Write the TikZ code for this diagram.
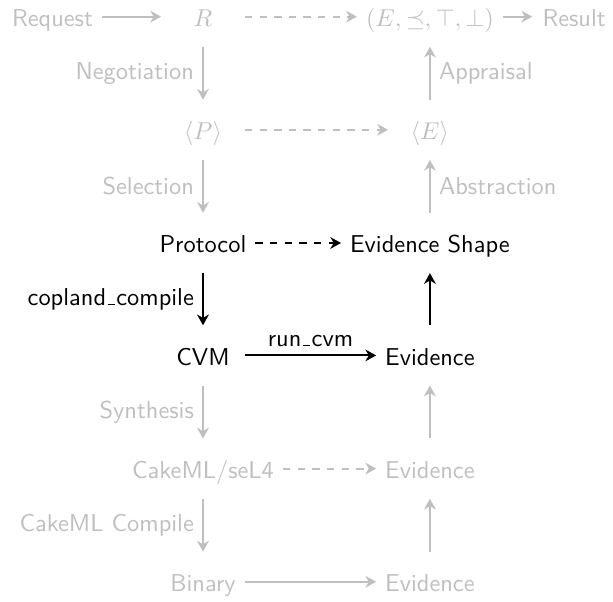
\documentclass[tikz,border=0pt]{standalone}
\usetikzlibrary{arrows.meta}
\newcommand{\usbar}{\leavevmode\kern.06em\vbox{\hrule width.3em}\kern.06em}
\begin{document}
\begin{tikzpicture}[thick, >={Stealth[length=4.4pt,width=4.8pt,inset=1.4pt]}, every node/.style={font=\sffamily},main node/.style={minimum width=1.18cm,minimum height=0.84cm,text height=9pt,text depth=1pt}]
\useasboundingbox (0,0) rectangle (8.83,8.66);
\begin{scope}[lightgray]
\node[main node] (req) at (0.756,8.42) {Request};
\node[main node] (r) at (2.924,8.42) {$R$};
\node[main node] (tup) at (6.193,8.42) {$(E,\preceq,\top,\bot)$};
\node[main node] (res) at (8.27,8.42) {Result};
\node[main node] (p) at (2.924,6.79) {$\langle P\rangle$};
\node[main node] (e) at (6.193,6.79) {$\langle E\rangle$};
\node[main node] (cake) at (2.924,1.91) {CakeML/seL4};
\node[main node] (ev5) at (6.193,1.91) {Evidence};
\node[main node] (bin) at (2.924,0.28) {Binary};
\node[main node] (ev6) at (6.193,0.28) {Evidence};
\end{scope}
\node[main node] (prot) at (2.924,5.16) {Protocol};
\node[main node] (shape) at (6.193,5.16) {Evidence Shape};
\node[main node] (cvm) at (2.924,3.54) {CVM};
\node[main node] (ev4) at (6.193,3.54) {Evidence};
\begin{scope}[lightgray]
\draw (req) edge[->] (r);
\draw (r) edge[->,dashed] (tup);
\draw (tup) edge[->] (res);
\draw (r) edge[->] node[left]{Negotiation} (p);
\draw (e) edge[->] node[right]{Appraisal} (tup);
\draw (p) edge[->,dashed] (e);
\draw (p) edge[->] node[left]{Selection} (prot);
\draw (shape) edge[->] node[right]{Abstraction} (e);
\draw (cvm) edge[->] node[left]{Synthesis} (cake);
\draw (ev5) edge[->] (ev4);
\draw (cake) edge[->,dashed] (ev5);
\draw (cake) edge[->] node[left]{CakeML Compile} (bin);
\draw (ev6) edge[->] (ev5);
\draw (bin) edge[->] (ev6);
\end{scope}
\draw (prot) edge[->,dashed] (shape);
\draw (prot) edge[->] node[left]{copland\usbar compile} (cvm);
\draw (cvm) edge[->] node[above]{run\usbar cvm} (ev4);
\draw (ev4) edge[->] (shape);
\end{tikzpicture}
\end{document}
